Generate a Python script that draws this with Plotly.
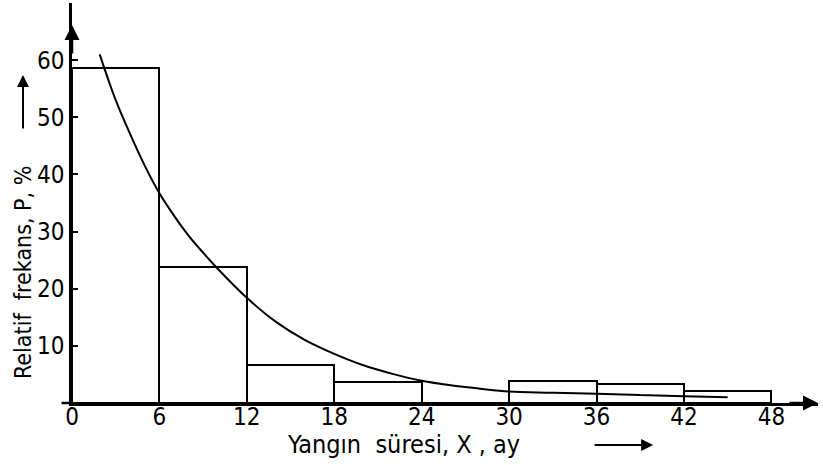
import plotly.graph_objects as go

# Histogram bins (months) and relative frequency (%)
bin_edges = [0, 6, 12, 18, 24, 30, 36, 42, 48]
freq = [58.6, 23.8, 6.6, 3.7, 0.0, 3.8, 3.3, 2.1]

# Fitted curve
curve_x = [1.9, 2.5, 3, 4, 5, 6, 7, 8, 9, 10, 12, 14, 16, 18, 20, 22, 24, 26, 28,
           30, 33, 36, 39, 42, 45]
curve_y = [61.0, 56.5, 53.0, 47.0, 41.5, 36.7, 32.8, 29.3, 26.3, 23.5, 18.4, 14.2,
           11.0, 8.6, 6.6, 5.1, 3.9, 3.1, 2.5, 2.0, 1.8, 1.6, 1.4, 1.2, 1.0]

x_ticks = [0, 6, 12, 18, 24, 30, 36, 42, 48]
y_ticks = [10, 20, 30, 40, 50, 60]

FONT = "DejaVu Sans Condensed"

centers = [(a + b) / 2 for a, b in zip(bin_edges[:-1], bin_edges[1:])]
widths = [b - a for a, b in zip(bin_edges[:-1], bin_edges[1:])]

fig = go.Figure()
fig.add_trace(go.Bar(
    x=centers, y=freq, width=widths,
    marker=dict(color="rgba(255,255,255,0)", line=dict(color="black", width=2)),
    showlegend=False, hoverinfo="skip",
))
fig.add_trace(go.Scatter(
    x=curve_x, y=curve_y, mode="lines",
    line=dict(color="black", width=2, shape="spline"),
    showlegend=False, hoverinfo="skip",
))

fig.update_layout(
    width=823, height=465,
    margin=dict(l=72, r=5, t=3, b=62),
    paper_bgcolor="white", plot_bgcolor="white",
    font=dict(family=FONT, size=24, color="black"),
    bargap=0,
    xaxis=dict(
        range=[0, 51.2], showgrid=False, zeroline=False, automargin=False,
        showline=True, linecolor="black", linewidth=2.5,
        ticks="", tickvals=x_ticks, ticktext=[str(v) for v in x_ticks],
        tickfont=dict(family=FONT, size=24), ticklabelstandoff=-10,
    ),
    yaxis=dict(
        range=[0, 70], showgrid=False, zeroline=False, automargin=False,
        showline=True, linecolor="black", linewidth=2.5,
        ticks="inside", ticklen=6, tickwidth=2, tickcolor="black",
        tickvals=y_ticks, ticktext=[str(v) for v in y_ticks],
        tickfont=dict(family=FONT, size=24),
    ),
)

# small extension of x-axis line to the left of the y-axis
fig.add_shape(type="line", xref="paper", yref="paper", x0=-0.014, x1=0.0, y0=0, y1=0,
              line=dict(color="black", width=2.5))

annotations = [
    # axis arrowheads
    dict(xref="paper", yref="paper", x=0, y=0.945, ax=0, ay=30, text="",
         showarrow=True, arrowhead=2, arrowsize=1.2, arrowwidth=2.5, arrowcolor="black"),
    dict(xref="paper", yref="paper", x=1.0, y=0, ax=-30, ay=0, text="",
         showarrow=True, arrowhead=2, arrowsize=1.2, arrowwidth=2.5, arrowcolor="black"),
    # axis titles
    dict(xref="paper", yref="paper", x=-0.0657, y=0.3275, text="Relatif  frekans, P, %",
         textangle=-90, showarrow=False, xanchor="center", yanchor="middle",
         font=dict(family=FONT, size=23, color="black")),
    dict(xref="paper", yref="paper", x=0.444, y=-0.1025, text="Yangın  süresi, X , ay",
         showarrow=False, xanchor="center", yanchor="middle",
         font=dict(family=FONT, size=25, color="black")),
    # title arrows
    dict(xref="paper", yref="paper", x=-0.0657, y=0.82, ax=0, ay=55, text="",
         showarrow=True, arrowhead=2, arrowsize=1.2, arrowwidth=2, arrowcolor="black"),
    dict(xref="paper", yref="paper", x=0.779, y=-0.105, ax=-60, ay=0, text="",
         showarrow=True, arrowhead=2, arrowsize=1.2, arrowwidth=2, arrowcolor="black"),
]
fig.update_layout(annotations=annotations)

fig.write_html("out.html", config={"displayModeBar": False},
               post_script="document.body.style.margin='0';")
